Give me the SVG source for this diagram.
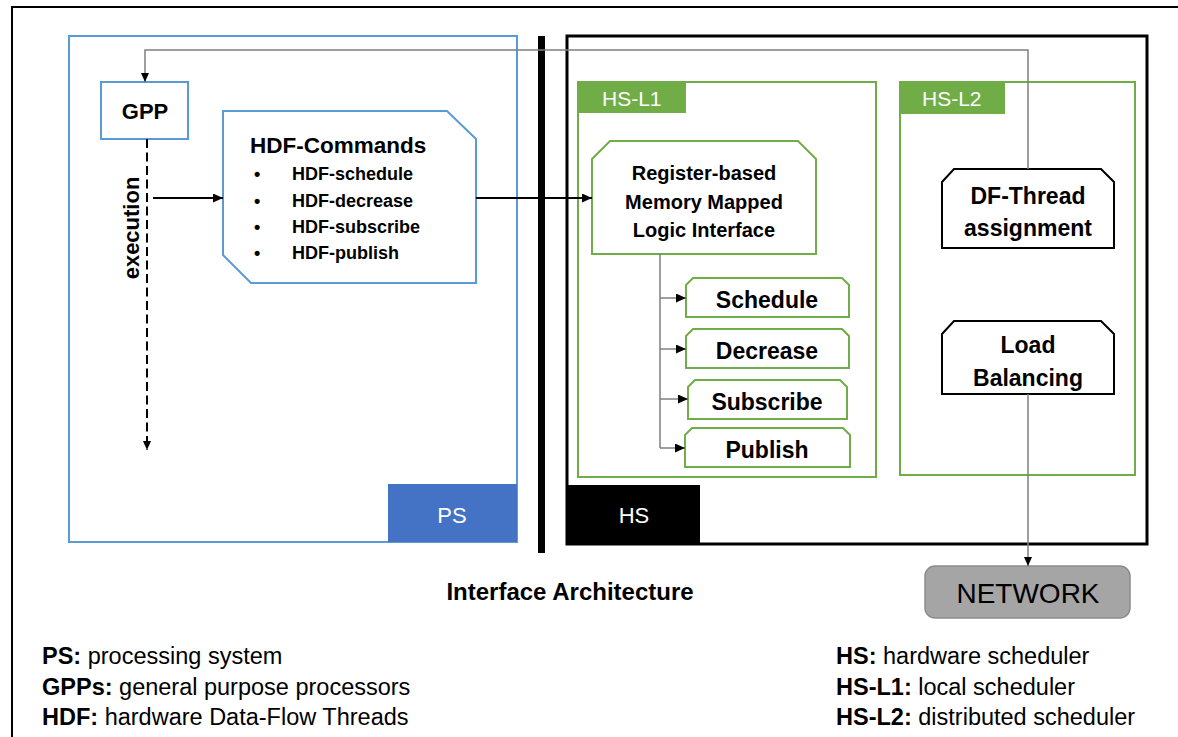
<svg xmlns="http://www.w3.org/2000/svg" width="1178" height="737" viewBox="0 0 1178 737">
  <defs>
    <style>
      text { font-family: "Liberation Sans", Arial, sans-serif; }
      .b { font-weight: bold; }
      .blue { fill: #ffffff; stroke: #5b9bd5; stroke-width: 2; }
      .green { fill: #ffffff; stroke: #70ad47; stroke-width: 2; }
      .blk { fill: #ffffff; stroke: #000000; stroke-width: 2; }
      .lbl { fill: #ffffff; font-size: 22px; }
      .sub { font-size: 23px; font-weight: bold; text-anchor: middle; }
      .item { font-size: 18px; font-weight: bold; }
      .legend { font-size: 23.5px; }
      .thin { fill: none; stroke: #7f7f7f; stroke-width: 1.5; }
      .thick { fill: none; stroke: #000000; stroke-width: 2; }
    </style>
    <marker id="arr" viewBox="0 0 10 9" refX="10" refY="4.5" markerUnits="userSpaceOnUse" markerWidth="10" markerHeight="9" orient="auto">
      <path d="M0,0 L10,4.5 L0,9 z" fill="#000000"/>
    </marker>
    <marker id="arrS" viewBox="0 0 9 8" refX="9" refY="4" markerUnits="userSpaceOnUse" markerWidth="9" markerHeight="8" orient="auto">
      <path d="M0,0 L9,4 L0,8 z" fill="#000000"/>
    </marker>
  </defs>

  <rect width="1178" height="737" fill="#ffffff"/>
  <!-- outer frame -->
  <rect x="12" y="7" width="1180" height="740" fill="none" stroke="#000000" stroke-width="2"/>

  <!-- processing system -->
  <g id="ps">
    <rect x="69" y="36" width="448" height="506" class="blue"/>
    <rect x="388" y="484" width="129" height="58" fill="#4472c4"/>
    <text x="452" y="523" class="lbl" text-anchor="middle">PS</text>
  </g>

  <!-- interface divider -->
  <rect id="divider" x="538" y="36" width="7" height="517" fill="#000000"/>

  <!-- hardware scheduler -->
  <g id="hs">
    <rect x="567" y="36" width="580" height="508" fill="#ffffff" stroke="#000000" stroke-width="3"/>
    <rect x="567" y="485" width="133" height="59" fill="#000000"/>
    <text x="634" y="523" class="lbl" text-anchor="middle">HS</text>
  </g>

  <g id="hs-l1">
    <rect x="578" y="82" width="298" height="395" class="green"/>
    <rect x="578" y="82" width="108" height="31" fill="#70ad47"/>
    <text x="602" y="106" fill="#ffffff" font-size="21">HS-L1</text>
  </g>

  <g id="hs-l2">
    <rect x="900" y="82" width="235" height="393" class="green"/>
    <rect x="900" y="82" width="105" height="32" fill="#70ad47"/>
    <text x="922" y="106" fill="#ffffff" font-size="21">HS-L2</text>
  </g>

  <g id="gpp">
    <rect x="101" y="82" width="87" height="57" class="blue"/>
    <text x="145" y="119" class="b" font-size="22" text-anchor="middle">GPP</text>
  </g>

  <g id="hdf-commands">
    <polygon points="223,111 447,111 476,139 476,283 251,283 223,255" class="blue"/>
    <text x="250" y="153" class="b" font-size="22.5">HDF-Commands</text>
    <text x="254" y="180" class="item">•</text>
    <text x="292" y="180" class="item">HDF-schedule</text>
    <text x="254" y="207" class="item">•</text>
    <text x="292" y="207" class="item">HDF-decrease</text>
    <text x="254" y="233" class="item">•</text>
    <text x="292" y="233" class="item">HDF-subscribe</text>
    <text x="254" y="259" class="item">•</text>
    <text x="292" y="259" class="item">HDF-publish</text>
  </g>

  <text id="execution" transform="translate(139,228) rotate(-90)" class="b" font-size="22" text-anchor="middle">execution</text>

  <g id="register-interface">
    <polygon points="592,159 610,141 798,141 816,159 816,254 592,254" class="green"/>
    <text x="704" y="180" class="b" font-size="20" text-anchor="middle">Register-based</text>
    <text x="704" y="209" class="b" font-size="20" text-anchor="middle">Memory Mapped</text>
    <text x="704" y="237" class="b" font-size="20" text-anchor="middle">Logic Interface</text>
  </g>

  <g id="schedule">
    <polygon points="686,285 693,278 842,278 849,285 849,317 686,317" class="green"/>
    <text x="767" y="308" class="sub">Schedule</text>
  </g>
  <g id="decrease">
    <polygon points="686,336 693,329 842,329 849,336 849,368 686,368" class="green"/>
    <text x="767" y="359" class="sub">Decrease</text>
  </g>
  <g id="subscribe">
    <polygon points="688,387 695,380 840,380 847,387 847,419 688,419" class="green"/>
    <text x="767" y="410" class="sub">Subscribe</text>
  </g>
  <g id="publish">
    <polygon points="685,435 692,428 843,428 850,435 850,467 685,467" class="green"/>
    <text x="767" y="458" class="sub">Publish</text>
  </g>

  <g id="df-thread">
    <polygon points="942,182 954,169 1101,169 1114,182 1114,248 942,248" class="blk"/>
    <text x="1028" y="204" class="sub">DF-Thread</text>
    <text x="1028" y="236" class="sub">assignment</text>
  </g>

  <g id="load-balancing">
    <polygon points="942,334 954,321 1101,321 1114,334 1114,394 942,394" class="blk"/>
    <text x="1028" y="353" class="sub">Load</text>
    <text x="1028" y="386" class="sub">Balancing</text>
  </g>

  <g id="network">
    <rect x="925" y="566" width="205" height="52" rx="10" ry="10" fill="#a5a5a5" stroke="#8c8c8c" stroke-width="1.5"/>
    <text x="1028" y="603" font-size="28" text-anchor="middle" fill="#000000">NETWORK</text>
  </g>

  <!-- connectors -->
  <g id="connectors">
    <path d="M1028,169 V50 H145 V82" class="thin" marker-end="url(#arrS)"/>
    <path d="M1028,394 V566" class="thin" marker-end="url(#arrS)"/>
    <path d="M147,139 V450" class="thick" stroke-dasharray="9 4.5" marker-end="url(#arrS)"/>
    <path d="M153,198 H223" class="thick" marker-end="url(#arr)"/>
    <path d="M476,198 H592" class="thick" marker-end="url(#arr)"/>
    <path d="M660,254 V448" class="thin"/>
    <path d="M660,298 H686" class="thin" marker-end="url(#arr)"/>
    <path d="M660,349 H686" class="thin" marker-end="url(#arr)"/>
    <path d="M660,399 H688" class="thin" marker-end="url(#arr)"/>
    <path d="M660,448 H685" class="thin" marker-end="url(#arr)"/>
  </g>

  <text x="570" y="600" class="b" font-size="24" text-anchor="middle">Interface Architecture</text>

  <g id="legend" class="legend">
    <text x="42" y="664" class="legend"><tspan class="b">PS:</tspan> processing system</text>
    <text x="42" y="695" class="legend"><tspan class="b">GPPs:</tspan> general purpose processors</text>
    <text x="42" y="725" class="legend"><tspan class="b">HDF:</tspan> hardware Data-Flow Threads</text>
    <text x="836" y="664" class="legend"><tspan class="b">HS:</tspan> hardware scheduler</text>
    <text x="836" y="695" class="legend"><tspan class="b">HS-L1:</tspan> local scheduler</text>
    <text x="836" y="725" class="legend"><tspan class="b">HS-L2:</tspan> distributed scheduler</text>
  </g>
</svg>
